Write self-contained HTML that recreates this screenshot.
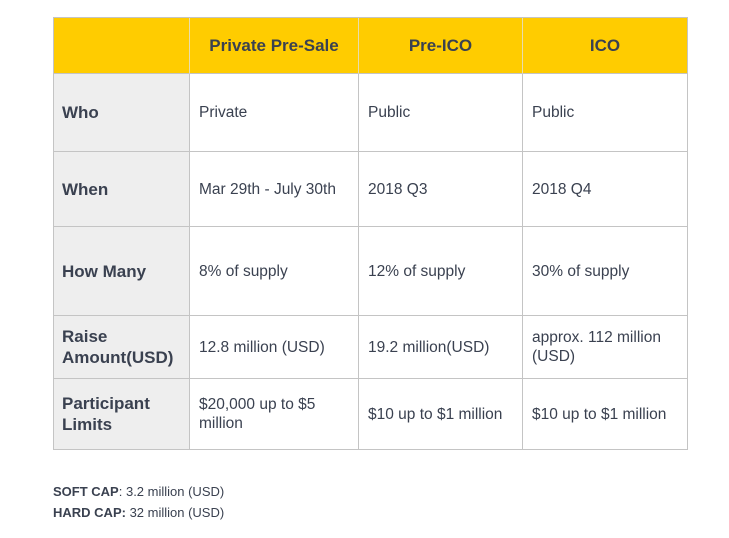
<!DOCTYPE html>
<html><head><meta charset="utf-8"><style>
body{margin:0;width:729px;height:538px;background:#fff;font-family:"Liberation Sans",sans-serif;color:#3a4150;position:relative;overflow:hidden}
.c{position:absolute;box-sizing:border-box;border-right:1px solid #c4c4c4;border-bottom:1px solid #c4c4c4;display:flex;align-items:center;padding-left:9px;font-size:15.5px;line-height:19px}
.h{background:#ffcc00;font-weight:bold;font-size:17px;justify-content:center;padding-left:0;border-right-color:#e8dcae}
.r{background:#eeeeee;font-weight:bold;font-size:17px;line-height:21px}
.note{position:absolute;left:53px;font-size:13px}
</style></head><body>
<div id="t"></div>
<div style="position:absolute;z-index:2;left:53px;top:17px;width:635px;height:433px;border:1px solid #c4c4c4;box-sizing:border-box;pointer-events:none"></div>
<div class="note" style="top:484px"><b>SOFT CAP</b>: 3.2 million (USD)</div>
<div class="note" style="top:505px"><b>HARD CAP:</b> 32 million (USD)</div>
<script>
const xs=[53,190,359,523,688];
const ys=[17,74,152,227,316,379,450];
const rows=[
["","Private Pre-Sale","Pre-ICO","ICO"],
["Who","Private","Public","Public"],
["When","Mar 29th - July 30th","2018 Q3","2018 Q4"],
["How Many","8% of supply","12% of supply","30% of supply"],
["Raise<br>Amount(USD)","12.8 million (USD)","19.2 million(USD)","approx. 112 million<br>(USD)"],
["Participant<br>Limits","$20,000 up to $5<br>million","$10 up to $1 million","$10 up to $1 million"]];
const t=document.getElementById('t');
rows.forEach((r,i)=>r.forEach((v,j)=>{
const d=document.createElement('div');
d.className='c'+(i==0?' h':(j==0?' r':''));
d.style.left=xs[j]+'px';d.style.top=ys[i]+'px';
d.style.width=(xs[j+1]-xs[j])+'px';d.style.height=(ys[i+1]-ys[i])+'px';
d.innerHTML=v;


t.appendChild(d);}));
</script>
</body></html>
